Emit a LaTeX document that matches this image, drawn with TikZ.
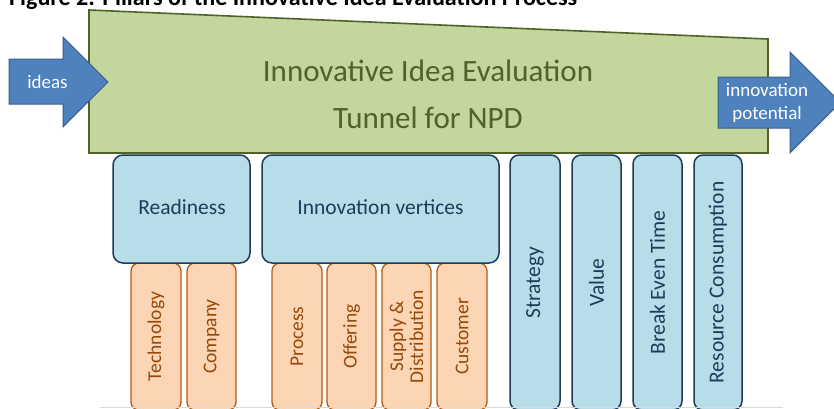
\documentclass[tikz,border=0pt]{standalone}
\usepackage{fontspec}
\setmainfont{Carlito}
\definecolor{tunnelfill}{HTML}{C3D69B}
\definecolor{tunneldraw}{HTML}{4F6228}
\definecolor{tunneltext}{HTML}{4F6228}
\definecolor{arrowfill}{HTML}{4F81BD}
\definecolor{arrowdraw}{HTML}{385D8A}
\definecolor{bluefill}{HTML}{B7DEE8}
\definecolor{bluedraw}{HTML}{1F3A5A}
\definecolor{bluetext}{HTML}{1F3A5A}
\definecolor{orangefill}{HTML}{FCD5B5}
\definecolor{orangedraw}{HTML}{B35A12}
\definecolor{orangetext}{HTML}{984807}
\begin{document}
\begin{tikzpicture}[x=1pt,y=-1pt,
  tunnel/.style={fill=tunnelfill,draw=tunneldraw,line width=1.6pt,line join=miter},
  bigarrow/.style={fill=arrowfill,draw=arrowdraw,line width=1pt,line join=miter},
  arrowtext/.style={text=white,font=\fontsize{19}{23}\selectfont,align=center,inner sep=0pt},
  headbox/.style={rectangle,rounded corners=10pt,fill=bluefill,draw=bluedraw,line width=1.5pt,inner sep=0pt},
  headtext/.style={text=bluetext,font=\fontsize{21.5}{26}\selectfont,inner sep=0pt,anchor=base},
  bluepillar/.style={rectangle,rounded corners=9pt,fill=bluefill,draw=bluedraw,line width=1.5pt,
    rotate=90,minimum width=255pt,minimum height=#1,inner sep=0pt,
    text=bluetext,font=\fontsize{21.5}{26}\selectfont},
  orangepillar/.style={rectangle,rounded corners=8pt,fill=orangefill,draw=orangedraw,line width=1.3pt,
    rotate=90,minimum width=147pt,minimum height=#1,inner sep=0pt,align=center,
    text=orangetext,font=\fontsize{19.5}{20}\selectfont},
  titletext/.style={text=tunneltext,font=\fontsize{31}{37}\selectfont,inner sep=0pt,anchor=base}
]
\clip (0,0) rectangle (834,408);
\useasboundingbox (0,0) rectangle (834,408);

% caption line, cut at the top edge of the page
\node[anchor=base west,inner sep=0pt] (caption) at (9,5)
  {\resizebox{568pt}{!}{\fontsize{19}{23}\selectfont\bfseries Figure 2: Pillars of the Innovative Idea Evaluation Process}};

% evaluation tunnel
\draw[tunnel] (89,10) -- (768,39) -- (768,153) -- (89,153) -- cycle;
\node[titletext] (tunnelA) at (428,81) {Innovative Idea Evaluation};
\node[titletext] (tunnelB) at (428,128) {Tunnel for NPD};

% input and output arrows
\draw[bigarrow] (9,59) -- (63,59) -- (63,37) -- (108,82) -- (63,127) -- (63,104) -- (9,104) -- cycle;
\node[arrowtext] (ideas) at (47.5,82) {ideas};
\draw[bigarrow] (718,77) -- (790,77) -- (790,52) -- (840.5,102.5) -- (790,153) -- (790,128) -- (718,128) -- cycle;
\node[arrowtext] (potential) at (767,103) {innovation\\potential};

% sub-pillars (orange), drawn below the group heads
\node[orangepillar=50pt] (technology) at (156,336.5) {Technology};
\node[orangepillar=49pt] (company) at (211.5,336.5) {Company};
\node[orangepillar=50pt] (process) at (297,336.5) {Process};
\node[orangepillar=49pt] (offering) at (351.5,336.5) {Offering};
\node[orangepillar=49pt] (supply) at (406.5,336.5) {Supply \&\\Distribution};
\node[orangepillar=50pt] (customer) at (462,336.5) {Customer};

% group heads
\node[headbox,minimum width=137pt,minimum height=108pt] (readiness) at (181.5,209) {};
\node[headtext] (readinessT) at (182,214) {Readiness};
\node[headbox,minimum width=237pt,minimum height=108pt] (vertices) at (380.5,209) {};
\node[headtext] (verticesT) at (380.5,214) {Innovation vertices};

% full-height pillars
\node[bluepillar=50pt] (strategy) at (535,282.5) {Strategy};
\node[bluepillar=49pt] (value) at (596.5,282.5) {Value};
\node[bluepillar=49pt] (breakeven) at (657.5,282.5) {Break Even Time};
\node[bluepillar=48pt] (resource) at (718,282.5) {Resource Consumption};

% ground line
\coordinate (g1) at (100,407.5);
\coordinate (g2) at (783,407.5);
\draw[black!15,line width=1.2pt] (g1) -- (g2);
\end{tikzpicture}
\end{document}
